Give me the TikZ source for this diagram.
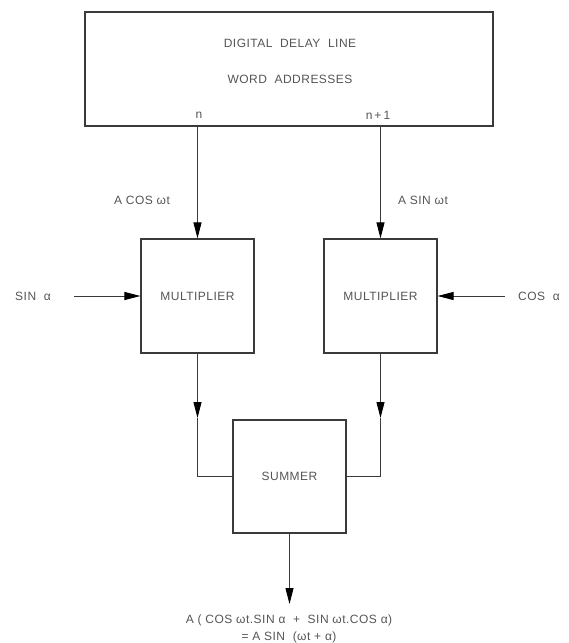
\documentclass[tikz,border=0pt]{standalone}
\usepackage{fontspec}
\setmainfont{Liberation Sans}[LetterSpace=4]
\usetikzlibrary{arrows.meta}
\definecolor{ink}{HTML}{3A3A3A}
\definecolor{txt}{HTML}{555555}
\tikzset{
  blk/.style={draw=ink,line width=1.2pt,fill=white,inner sep=0pt},
  wire/.style={draw=ink,line width=0.9pt},
  arr/.style={wire,-{Triangle[length=16pt,width=8pt,color=black]}},
  lbl/.style={text=txt,font=\fontsize{12}{14}\selectfont,inner sep=1pt}
}
\begin{document}
\begin{tikzpicture}[x=1pt,y=-1pt]
\useasboundingbox (0,0) rectangle (568,643);
% blocks
\node[blk,minimum width=408pt,minimum height=114pt] (ddl) at (289,69) {};
\node[lbl] (t1) at (290,43) {DIGITAL\ \ DELAY\ \ LINE};
\node[lbl] (t2) at (290,79) {WORD\ \ ADDRESSES};
\node[lbl] (pn) at (199,115) {n};
\node[lbl] (pn1) at (378,115) {n\,+\,1};
\node[blk,minimum width=113pt,minimum height=114pt] (m1) at (197.5,296) {};
\node[lbl] at (m1) {MULTIPLIER};
\node[blk,minimum width=113pt,minimum height=114pt] (m2) at (380.5,296) {};
\node[lbl] at (m2) {MULTIPLIER};
\node[blk,minimum width=113pt,minimum height=113pt] (sum) at (289.5,476.5) {};
\node[lbl] at (sum) {SUMMER};
% labels
\node[lbl] (lc) at (142,200) {A COS ωt};
\node[lbl] (ls) at (423,200) {A SIN ωt};
\node[lbl] (sa) at (33,296) {SIN \ α};
\node[lbl] (ca) at (539,296) {COS \ α};
\node[lbl] (o1) at (289,620) {A ( COS ωt.SIN α \ + \ SIN ωt.COS α)};
\node[lbl] (o2) at (289,637) {= A SIN \ (ωt + α)};
% coordinates
\coordinate (sinstart) at (74,296);
\coordinate (cosstart) at (505,296);
\coordinate (lmid) at (197.5,418);
\coordinate (rmid) at (380.5,418);
\coordinate (outend) at (289.5,604);
% connectors
\draw[arr] (ddl.south -| m1.north) -- (m1.north);
\draw[arr] (ddl.south -| m2.north) -- (m2.north);
\draw[arr] (sinstart) -- (m1.west);
\draw[arr] (cosstart) -- (m2.east);
\draw[arr] (m1.south) -- (lmid);
\draw[wire] (lmid) |- (sum.west);
\draw[arr] (m2.south) -- (rmid);
\draw[wire] (rmid) |- (sum.east);
\draw[arr] (sum.south) -- (outend);
\end{tikzpicture}
\end{document}
